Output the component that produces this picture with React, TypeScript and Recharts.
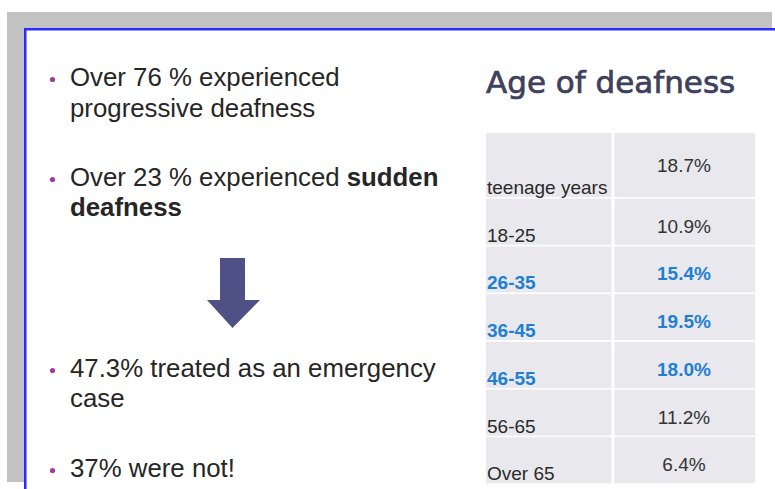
import { Bar, BarChart, XAxis, YAxis } from "recharts";

const ageGroups = ["teenage years", "18-25", "26-35", "36-45", "46-55", "56-65", "Over 65"];
const shares = [18.7, 10.9, 15.4, 19.5, 18.0, 11.2, 6.4];
const highlighted = ["26-35", "36-45", "46-55"];

const title = "Age of deafness";

const data = ageGroups.map((age, i) => ({ age, share: shares[i] }));

const FONT = '"Liberation Sans", Arial, sans-serif';
const CELL = "#e8e8ed";
const BLUE_TEXT = "#1f7fd2";
const LABEL_COL = 127;

// draws one table row (label cell + value cell) in the band recharts gives the bar
function TableRow(props: any) {
  const { x, y, width, height, index } = props;
  const extra = index === 0 ? 18 : 0;
  const top = y - extra;
  const h = height + extra;
  const row = data[index];
  const hot = highlighted.includes(row.age);
  const color = hot ? BLUE_TEXT : "#2a2a2a";
  const weight = hot ? "bold" : "normal";
  return (
    <g>
      <rect x={x} y={top} width={LABEL_COL - 1.5} height={h - 2} fill={CELL} />
      <rect x={x + LABEL_COL + 1.5} y={top} width={width - LABEL_COL - 1.5} height={h - 2} fill={CELL} />
      <text x={x + 1} y={y + height - 5} fontFamily={FONT} fontSize={19} fill={color} fontWeight={weight}>
        {row.age}
      </text>
      <text
        x={x + LABEL_COL + (width - LABEL_COL) / 2}
        y={index === 0 ? top + 39 : top + 34}
        textAnchor="middle"
        fontFamily={FONT}
        fontSize={19}
        fill={hot ? BLUE_TEXT : "#333"}
        fontWeight={weight}
      >
        {row.share.toFixed(1)}%
      </text>
    </g>
  );
}

function Bullet({ y }: { y: number }) {
  return <circle cx={52.5} cy={y - 6.5} r={2.6} fill="#a03ca0" />;
}

export default function App() {
  const txt = { fontFamily: FONT, fontSize: 25.8, fill: "#262626" };
  return (
    <div style={{ position: "absolute", left: 0, top: 0, width: 775, height: 489, background: "#fff", overflow: "hidden" }}>
      <svg width={775} height={489} style={{ position: "absolute", left: 0, top: 0 }}>
        <rect x={7} y={12} width={765} height={16} fill="#c2c2c2" />
        <rect x={7} y={12} width={17} height={470} fill="#c2c2c2" />
        <rect x={24} y={28} width={751} height={2.5} fill="#2b2bff" />
        <rect x={24} y={28} width={2.5} height={461} fill="#2b2bff" />
      </svg>

      <div style={{ position: "absolute", left: 0, top: 0 }}>
        <BarChart
          width={775}
          height={489}
          data={data}
          layout="vertical"
          margin={{ top: 151, right: 20, left: 486, bottom: 4 }}
          barCategoryGap={0}
        >
          <XAxis type="number" hide domain={[0, 25]} />
          <YAxis type="category" dataKey="age" hide />
          <Bar dataKey="share" fill="none" background={(p: any) => <TableRow key={p.index} {...p} />} isAnimationActive={false} />
        </BarChart>
      </div>

      <svg width={775} height={489} style={{ position: "absolute", left: 0, top: 0 }}>
        <text
          x={486}
          y={93}
          fontFamily='"DejaVu Sans", Verdana, sans-serif'
          fontSize={31}
          fill="#3e405c"
          stroke="#3e405c"
          strokeWidth={0.7}
        >
          {title}
        </text>

        <Bullet y={86} />
        <text x={70} y={86} {...txt}>Over 76 % experienced</text>
        <text x={70} y={117} {...txt}>progressive  deafness</text>

        <Bullet y={186} />
        <text x={70} y={186} {...txt}>
          Over 23 % experienced <tspan fontWeight="bold">sudden</tspan>
        </text>
        <text x={70} y={216} {...txt} fontWeight="bold">deafness</text>

        <polygon points="220,258 245,258 245,300 260,300 232.5,328 207,300 220,300" fill="#4f5186" />

        <Bullet y={377} />
        <text x={70} y={377} {...txt}>47.3% treated as an emergency</text>
        <text x={70} y={407} {...txt}>case</text>

        <Bullet y={477} />
        <text x={70} y={477} {...txt}>37% were not!</text>
      </svg>
    </div>
  );
}
